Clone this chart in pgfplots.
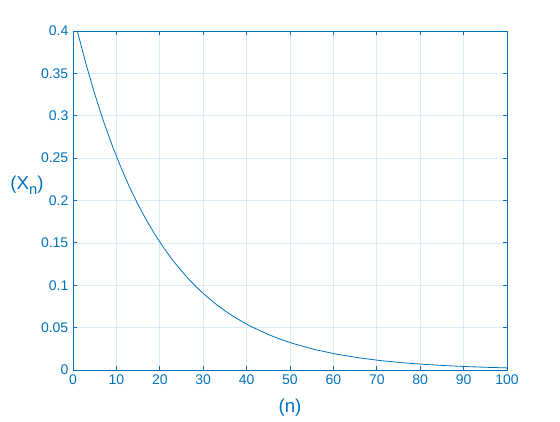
\documentclass[border=0pt]{standalone}
\usepackage{pgfplots}
\pgfplotsset{compat=1.18}
\usepackage{fontspec}
\setmainfont{Liberation Sans}
\definecolor{mblue}{rgb}{0,0.447,0.741}
\definecolor{mgrid}{rgb}{0.85,0.917,0.961}
\begin{document}
\begin{tikzpicture}
\begin{axis}[
  scale only axis,
  width=325.5pt, height=254.25pt,
  xmin=0, xmax=100, ymin=0, ymax=0.4,
  xtick={0,10,...,100},
  ytick={0,0.05,0.1,0.15,0.2,0.25,0.3,0.35,0.4},
  yticklabels={0,0.05,0.1,0.15,0.2,0.25,0.3,0.35,0.4},
  /pgf/number format/assume math mode=true,
  tick label style={font=\fontsize{10.5}{12}\selectfont, text=mblue},
  axis line style={mblue, line width=0.6pt},
  tick style={mblue, line width=0.6pt},
  major tick length=3pt,
  tick align=inside,
  xtick pos=both, ytick pos=both,
  grid=major,
  major grid style={mgrid, line width=0.5pt},
  xlabel={(n)},
  ylabel={(X\raisebox{-0.5ex}{\fontsize{11}{13}\selectfont n})},
  label style={font=\fontsize{14}{16}\selectfont, text=mblue},
  xlabel style={at={(axis description cs:0.5,-0.112)}, anchor=center},
  ylabel style={rotate=-90, at={(axis description cs:-0.106,0.546)}, anchor=center},
]
\addplot[mblue, line width=0.6pt] coordinates {
(1,0.4) (3,0.361) (5,0.3258) (7,0.2940) (9,0.2654) (11,0.2395) (13,0.2161)
(15,0.1951) (17,0.1761) (19,0.1589) (21,0.1434) (23,0.1294) (25,0.1168)
(27,0.1054) (29,0.0951) (31,0.0859) (33,0.0775) (35,0.0699) (37,0.0631)
(39,0.0570) (41,0.0514) (45,0.0419) (48,0.0359) (51,0.0308) (56,0.0238)
(61,0.0184) (66,0.01426) (71,0.01103) (76,0.00854) (81,0.00661) (86,0.00511)
(91,0.00396) (96,0.00306) (100,0.00249)
};
\end{axis}
\path ([xshift=-54.75pt,yshift=-37.5pt]current axis.south west) rectangle ([xshift=39.75pt,yshift=23.25pt]current axis.north east);
\end{tikzpicture}
\end{document}
